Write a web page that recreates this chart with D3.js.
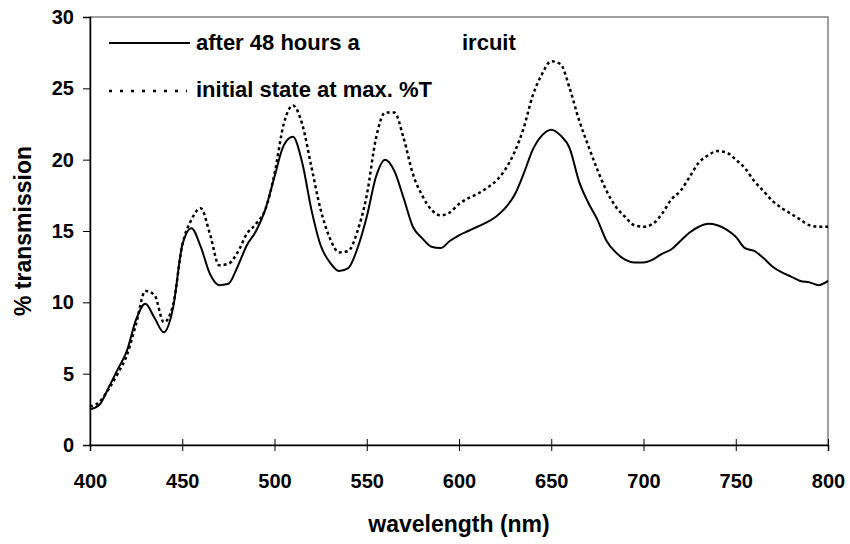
<!DOCTYPE html>
<html>
<head>
<meta charset="utf-8">
<script src="https://cdn.jsdelivr.net/npm/d3@7"></script>
<style>
  body { margin: 0; background: #fff; }
  svg text { font-family: "Liberation Sans", Arial, sans-serif; font-weight: bold; fill: #000; }
</style>
</head>
<body>
<div id="chart"></div>
<script>
// wavelength grid (nm)
const wavelengths = [
    400, 405, 410, 415, 420, 425, 430, 435, 440, 445,
    450, 455, 460, 465, 470, 475, 480, 485, 490, 495,
    500, 505, 510, 515, 520, 525, 530, 535, 540, 545,
    550, 555, 560, 565, 570, 575, 580, 585, 590, 595,
    600, 605, 610, 615, 620, 625, 630, 635, 640, 645,
    650, 655, 660, 665, 670, 675, 680, 685, 690, 695,
    700, 705, 710, 715, 720, 725, 730, 735, 740, 745,
    750, 755, 760, 765, 770, 775, 780, 785, 790, 795, 800
];

// after 48 hours at open circuit (solid)
const afterOpenCircuit = [
    2.5, 2.8, 4.0, 5.3, 6.6, 8.8, 9.9, 8.9, 7.9, 9.6,
    14.0, 15.2, 13.9, 12.0, 11.2, 11.3, 12.5, 14.0, 15.0, 16.5,
    18.8, 21.0, 21.6, 19.8, 16.5, 14.0, 12.8, 12.2, 12.4, 13.8,
    16.0, 18.8, 20.0, 19.2, 17.3, 15.3, 14.5, 13.9, 13.8, 14.3,
    14.7, 15.0, 15.3, 15.6, 16.0, 16.6, 17.5, 19.0, 20.7, 21.7,
    22.1, 21.7, 20.8, 18.5, 17.0, 15.8, 14.3, 13.5, 13.0, 12.8,
    12.8, 13.0, 13.4, 13.7, 14.3, 14.9, 15.3, 15.5, 15.4, 15.1,
    14.6, 13.8, 13.6, 13.1, 12.5, 12.1, 11.8, 11.5, 11.4, 11.2, 11.5
];

// initial state at max. %T (dotted)
const initialMaxT = [
    2.7, 3.0, 3.9, 5.0, 6.3, 8.5, 10.8, 10.5, 8.6, 9.8,
    14.0, 15.8, 16.6, 14.8, 12.6, 12.7, 13.5, 14.8, 15.5, 16.5,
    19.0, 22.5, 23.8, 22.5, 19.5, 16.5, 14.5, 13.5, 13.6, 15.0,
    17.5, 21.5, 23.3, 23.3, 21.5, 19.0, 17.5, 16.5, 16.1, 16.3,
    16.9, 17.3, 17.6, 18.0, 18.5, 19.3, 20.5, 22.2, 24.5, 26.0,
    26.9, 26.7, 25.0, 22.8, 21.0, 19.3, 17.8, 16.7, 16.0, 15.4,
    15.3, 15.5, 16.2, 17.2, 17.8, 18.8, 19.8, 20.3, 20.6, 20.5,
    20.0, 19.4, 18.5, 17.8, 17.1, 16.6, 16.2, 15.8, 15.4, 15.3, 15.3
];

const xTicks = [400, 450, 500, 550, 600, 650, 700, 750, 800];
const yTicks = [0, 5, 10, 15, 20, 25, 30];

const width = 850, height = 544;
const margin = { top: 17, right: 22, bottom: 99, left: 90 };
const plotW = width - margin.left - margin.right;
const plotH = height - margin.top - margin.bottom;

const svg = d3.select('#chart').append('svg')
    .attr('width', width)
    .attr('height', height);

const g = svg.append('g')
    .attr('transform', `translate(${margin.left},${margin.top})`);

const x = d3.scaleLinear().domain([400, 800]).range([0, plotW]);
const y = d3.scaleLinear().domain([0, 30]).range([plotH, 0]);

// plot area frame (grey)
g.append('rect')
    .attr('width', plotW)
    .attr('height', plotH)
    .attr('fill', 'none')
    .attr('stroke', '#808080')
    .attr('stroke-width', 1.5);

// y axis
const yAxis = g.append('g')
    .call(d3.axisLeft(y).tickValues(yTicks).tickSize(7).tickPadding(9));
yAxis.select('.domain').attr('stroke', '#000').attr('stroke-width', 1.5);
yAxis.selectAll('.tick line').attr('stroke', '#000').attr('stroke-width', 1);
yAxis.selectAll('.tick text').style('font-size', '20px');

// x axis, ticks cross the axis line
const xAxis = g.append('g')
    .attr('transform', `translate(0,${plotH})`)
    .call(d3.axisBottom(x).tickValues(xTicks).tickSize(6).tickPadding(23));
xAxis.select('.domain').attr('stroke', '#000').attr('stroke-width', 1.5);
xAxis.selectAll('.tick line').attr('y1', -6).attr('stroke', '#000').attr('stroke-width', 1);
xAxis.selectAll('.tick text').style('font-size', '20px');

// axis titles
svg.append('text')
    .attr('x', margin.left + plotW / 2)
    .attr('y', 532)
    .attr('text-anchor', 'middle')
    .style('font-size', '23px')
    .text('wavelength (nm)');

svg.append('text')
    .attr('transform', `translate(31,${margin.top + plotH / 2}) rotate(-90)`)
    .attr('text-anchor', 'middle')
    .style('font-size', '23px')
    .text('% transmission');

// series
const line = (vals) => d3.line()
    .x((d, i) => x(wavelengths[i]))
    .y(d => y(d))
    .curve(d3.curveMonotoneX)(vals);

g.append('path')
    .attr('d', line(initialMaxT))
    .attr('fill', 'none')
    .attr('stroke', '#000')
    .attr('stroke-width', 2.5)
    .attr('stroke-dasharray', '3,3');

g.append('path')
    .attr('d', line(afterOpenCircuit))
    .attr('fill', 'none')
    .attr('stroke', '#000')
    .attr('stroke-width', 2);

// legend (part of the first label is hidden in the source picture)
const legend = g.append('g').attr('transform', 'translate(19,0)');

legend.append('line')
    .attr('x1', 0).attr('x2', 81)
    .attr('y1', 26).attr('y2', 26)
    .attr('stroke', '#000').attr('stroke-width', 2);
legend.append('text')
    .attr('x', 87).attr('y', 33)
    .style('font-size', '22px')
    .text('after 48 hours a');
legend.append('text')
    .attr('x', 353).attr('y', 33)
    .style('font-size', '22px')
    .text('ircuit');

legend.append('line')
    .attr('x1', 0).attr('x2', 78)
    .attr('y1', 74).attr('y2', 74)
    .attr('stroke', '#000').attr('stroke-width', 2.5)
    .attr('stroke-dasharray', '3,8');
legend.append('text')
    .attr('x', 87).attr('y', 80)
    .style('font-size', '22px')
    .text('initial state at max. %T');
</script>
</body>
</html>
